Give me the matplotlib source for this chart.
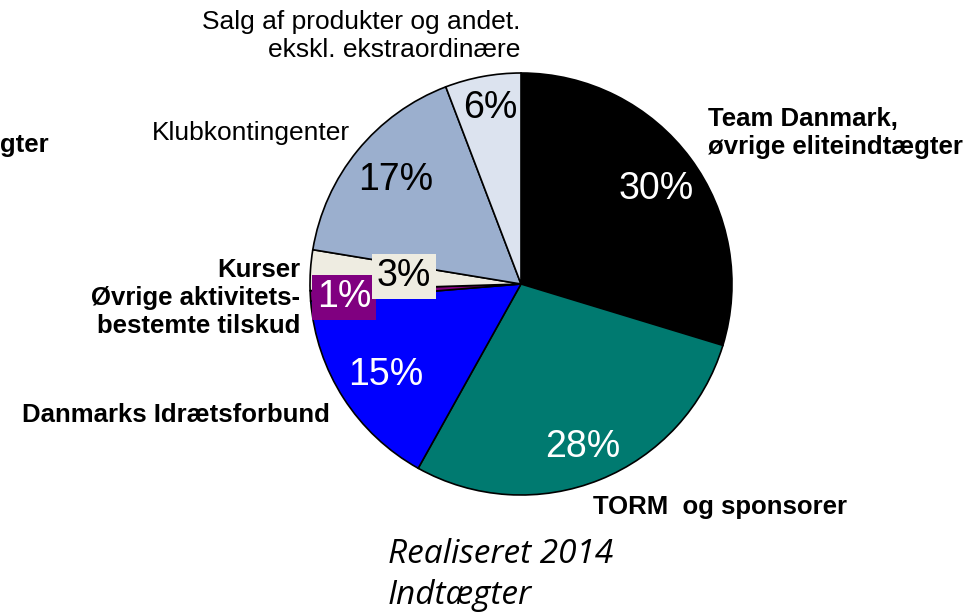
import matplotlib.pyplot as plt

# Data (share of income, realised 2014)
categories = ["Team Danmark, øvrige eliteindtægter", "TORM og sponsorer",
              "Danmarks Idrætsforbund", "Øvrige aktivitetsbestemte tilskud",
              "Kurser", "Klubkontingenter",
              "Salg af produkter og andet. ekskl. ekstraordinære"]
values = [29.7, 28.4, 15.6, 0.8, 3.1, 16.6, 5.8]
pct_labels = ["30%", "28%", "15%", "1%", "3%", "17%", "6%"]

colors = ["#000000", "#007A70", "#0000FF", "#800080", "#EEECE1", "#9BAFCE", "#DCE3EF"]
pct_colors = ["white", "white", "white", "white", "black", "black", "black"]

W, H = 979, 616
fig = plt.figure(figsize=(W / 100, H / 100), dpi=100)
ax = fig.add_axes([0, 0, 1, 1])

def py(y):
    # pixel row (from top) -> data y
    return H - y

ax.pie(values, colors=colors, startangle=90, counterclock=False,
       center=(521, py(284)), radius=211, frame=True,
       wedgeprops=dict(edgecolor="black", linewidth=1.2))
ax.set_xlim(0, W)
ax.set_ylim(0, H)
ax.set_aspect("equal")
ax.axis("off")

# percentage labels (pixel layout)
pct_pos = [(656, 189), (583, 447), (386, 375), (344, 297), (404, 276), (396, 180), (490, 108)]
boxes = [None, None, None, "#800080", "#EEECE1", None, None]
for lab, (x, y), c, b in zip(pct_labels, pct_pos, pct_colors, boxes):
    kw = {}
    if b is not None:
        kw["bbox"] = dict(boxstyle="square,pad=0.12", facecolor=b, edgecolor="none")
    ax.text(x, py(y), lab, color=c, fontsize=27, family="Liberation Sans",
            ha="center", va="center", **kw)

bold = dict(fontsize=18.5, fontweight="bold", family="Liberation Sans", color="black")
reg = dict(fontsize=19, family="Liberation Sans", color="black")

ax.text(708, py(133), "Team Danmark,\nøvrige eliteindtægter", ha="left", va="center",
        linespacing=1.2, **bold)
ax.text(593, py(507), "TORM  og sponsorer", ha="left", va="center", **bold)
ax.text(330, py(415), "Danmarks Idrætsforbund", ha="right", va="center", **bold)
ax.text(300, py(298), "Kurser\nØvrige aktivitets-\nbestemte tilskud", ha="right", va="center",
        multialignment="right", linespacing=1.2, **bold)
ax.text(0, py(145), "gter", ha="left", va="center", **bold)
ax.text(350, py(133), "Klubkontingenter", ha="right", va="center", **reg)
ax.text(520, py(36), "Salg af produkter og andet.\nekskl. ekstraordinære", ha="right",
        va="center", multialignment="right", linespacing=1.2, **reg)

ax.text(388, py(575), "Realiseret 2014\nIndtægter", ha="left", va="center",
        fontsize=24, style="italic", family="Open Sans", linespacing=1.3)

fig.savefig("out.png", dpi=100)
